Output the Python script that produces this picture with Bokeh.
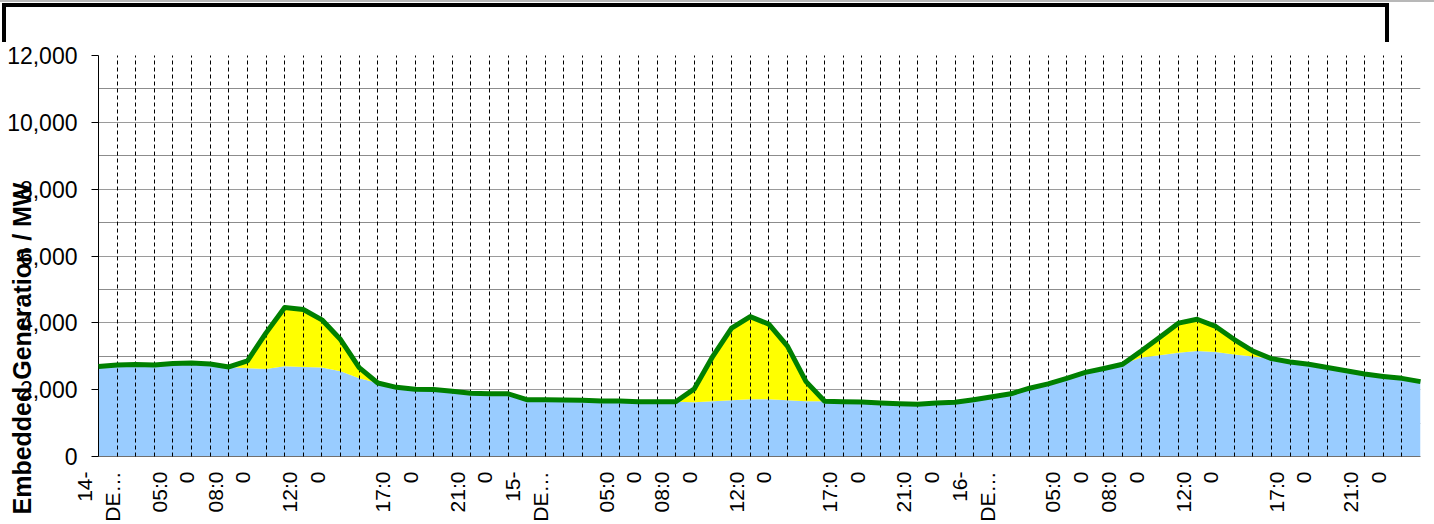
import math
from bokeh.plotting import figure
from bokeh.models import (ColumnDataSource, FixedTicker, NumeralTickFormatter, Range1d,
                          Title, Div, SingleIntervalTicker)
from bokeh.layouts import column
from bokeh.transform import stack
from bokeh.embed import file_html
from bokeh.resources import INLINE

# ---- data (hourly, 14-16 Dec) ----
hour_index = list(range(72))
wind_mw = [2690, 2740, 2750, 2740, 2780, 2800, 2770, 2680, 2640, 2620,
           2700, 2680, 2660, 2550, 2340, 2200, 2070, 2015, 2005, 1950,
           1890, 1880, 1877, 1700, 1700, 1690, 1680, 1660, 1660, 1640,
           1640, 1640, 1620, 1650, 1680, 1710, 1710, 1680, 1650, 1651,
           1641, 1631, 1602, 1582, 1562, 1602, 1621, 1700, 1789, 1877,
           2044, 2172, 2339, 2516, 2634, 2761, 2960, 3030, 3105, 3155,
           3125, 3055, 2990, 2928, 2830, 2761, 2663, 2565, 2467, 2397,
           2339, 2241]
solar_mw = [0, 0, 0, 0, 0, 0, 0, 0, 220, 1080,
            1760, 1720, 1430, 950, 320, 0, 0, 0, 0, 0,
            0, 0, 0, 0, 0, 0, 0, 0, 0, 0,
            0, 0, 405, 1357, 2162, 2476, 2250, 1622, 591, 0,
            0, 0, 0, 0, 0, 0, 0, 0, 0, 0,
            0, 0, 0, 0, 0, 0, 194, 537, 885, 952,
            767, 444, 164, 0, 0, 0, 0, 0, 0, 0,
            0, 0]
label_index = [0, 4, 7, 11, 16, 20, 23, 28, 31, 35, 40, 44, 47, 52, 55, 59, 64, 68]
label_text = ["14-\nDE\u2026", "05:0\n0", "08:0\n0", "12:0\n0", "17:0\n0", "21:0\n0",
              "15-\nDE\u2026", "05:0\n0", "08:0\n0", "12:0\n0", "17:0\n0", "21:0\n0",
              "16-\nDE\u2026", "05:0\n0", "08:0\n0", "12:0\n0", "17:0\n0", "21:0\n0"]
y_label = "Embedded Generation / MW"

FONT = "Liberation Sans"

src = ColumnDataSource(dict(idx=hour_index, wind=wind_mw, solar=solar_mw))

p = figure(width=1430, height=482, x_range=Range1d(0, 71), y_range=Range1d(0, 12000),
           output_backend="svg", toolbar_location=None,
           min_border_left=98, min_border_right=10, min_border_top=13, min_border_bottom=62)
p.outline_line_color = None
p.background_fill_color = "white"
p.border_fill_color = "white"

p.varea_stack(["wind", "solar"], x="idx", color=["#99ccff", "#ffff00"], source=src)
p.line(x="idx", y=stack("wind", "solar"), line_color="#008000", line_width=5,
       line_join="round", level="annotation", source=src)

# y axis
yt = SingleIntervalTicker(interval=2000, num_minor_ticks=2)
p.yaxis.ticker = yt
p.ygrid.ticker = yt
p.yaxis.formatter = NumeralTickFormatter(format="0,0")
p.yaxis.major_tick_out = 7
p.yaxis.major_tick_in = 0
p.yaxis.minor_tick_line_color = None
p.yaxis.axis_line_color = "black"
p.yaxis.major_tick_line_color = "black"
p.yaxis.major_label_standoff = 14
p.yaxis.major_label_text_font = FONT
p.yaxis.major_label_text_font_size = "23px"
p.yaxis.major_label_text_color = "black"
p.ygrid.grid_line_color = "#a8a8a8"
p.ygrid.grid_line_dash = "1 1"
p.ygrid.minor_grid_line_color = "#8c8c8c"

# x axis
p.xaxis.ticker = FixedTicker(ticks=label_index)
p.xaxis.major_label_overrides = {i: t for i, t in zip(label_index, label_text)}
p.xaxis.major_label_orientation = math.pi / 2
p.xaxis.major_tick_out = 0
p.xaxis.major_tick_in = 0
p.xaxis.minor_tick_line_color = None
p.xaxis.axis_line_color = "#707070"
p.xaxis.major_label_standoff = 15
p.xaxis.major_label_text_font = FONT
p.xaxis.major_label_text_font_size = "21px"
p.xaxis.major_label_text_color = "black"
p.xgrid.ticker = FixedTicker(ticks=hour_index)
p.xgrid.grid_line_color = "black"
p.xgrid.grid_line_dash = "4 3"
p.xgrid.grid_line_width = 1
p.xgrid.level = "guide"

ytitle = Title(text=y_label, align="left", offset=-58, standoff=-62,
               text_font=FONT, text_font_size="25px", text_font_style="bold",
               text_color="black", level="overlay")
p.add_layout(ytitle, "left")

top_rule = Div(text="", width=1434, height=2, margin=(0, 0, 0, 0),
               styles={"background-color": "#b8b8b8"})
box = Div(text="", width=1387, height=39, margin=(1, 0, 0, 2),
          styles={"border": "4px solid black", "border-bottom": "none",
                  "box-sizing": "border-box"})

layout = column(top_rule, box, p, spacing=0)
open("out.html", "w").write(file_html(layout, INLINE))
